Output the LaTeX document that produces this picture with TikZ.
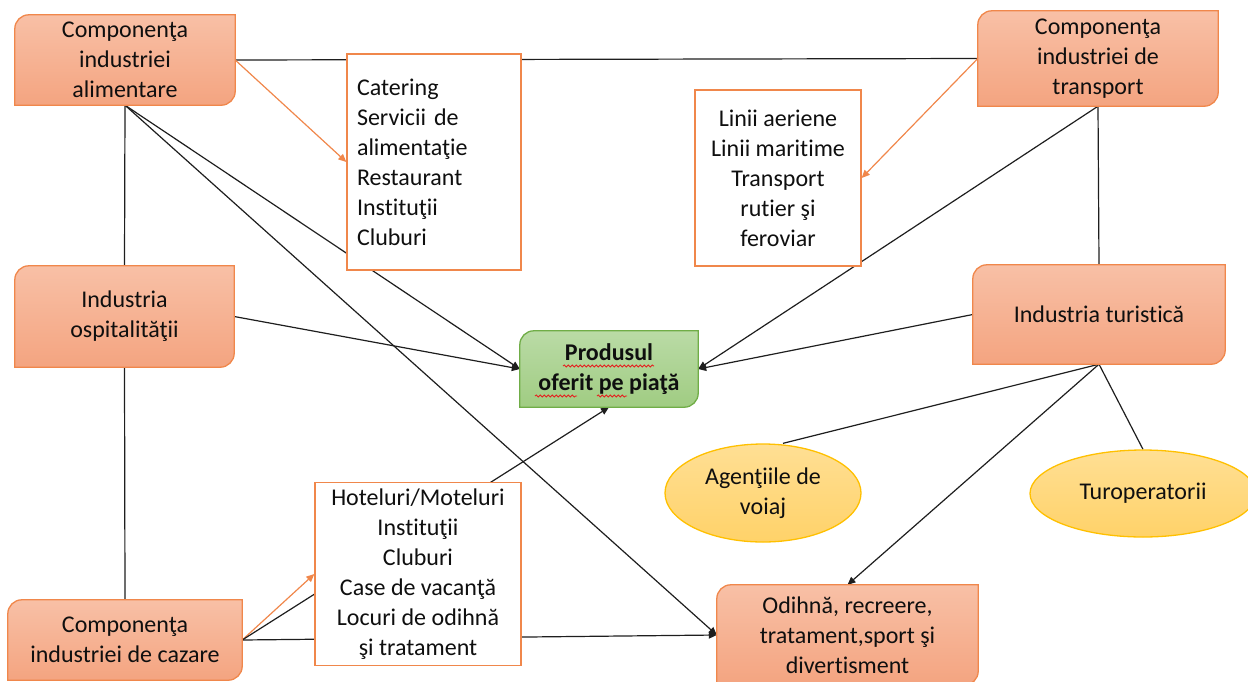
\documentclass[tikz,border=0pt]{standalone}
\usepackage{fontspec}
\setmainfont{Carlito}[RawFeature={-liga;-clig;-dlig;-calt}]
\usetikzlibrary{arrows.meta,shapes.geometric,decorations.pathmorphing}
\pgfdeclarelayer{lines}
\pgfdeclarelayer{boxes}
\pgfsetlayers{lines,boxes,main}
\definecolor{obrd}{RGB}{240,135,75}
\definecolor{otop}{RGB}{248,192,166}
\definecolor{obot}{RGB}{244,164,128}
\definecolor{gbrd}{RGB}{112,173,71}
\definecolor{gtop}{RGB}{186,219,166}
\definecolor{gbot}{RGB}{160,204,130}
\definecolor{ybrd}{RGB}{255,192,0}
\definecolor{ytop}{RGB}{255,223,148}
\definecolor{ybot}{RGB}{255,210,105}
\definecolor{txt}{RGB}{15,15,15}
\definecolor{lnc}{RGB}{30,30,30}
\definecolor{wavy}{RGB}{230,30,30}
\newcommand\dshape[2]{%
  \path[#1] ([xshift=14pt]#2.north west) -- (#2.north east) -- ([yshift=14pt]#2.south east)
    arc[start angle=0,end angle=-90,radius=14pt] -- (#2.south west) -- ([yshift=-14pt]#2.north west)
    arc[start angle=180,end angle=90,radius=14pt] -- cycle;}
\tikzset{
  every node/.style={font=\fontsize{24}{30}\selectfont, text=txt, inner sep=0pt},
  obox/.style={top color=otop, bottom color=obot, draw=obrd, line width=1.3pt},
  gbox/.style={top color=gtop, bottom color=gbot, draw=gbrd, line width=1.3pt},
  wbox/.style={rectangle, draw=obrd, fill=white, line width=1.3pt},
  ell/.style={ellipse, top color=ytop, bottom color=ybot, draw=ybrd, line width=1.3pt, align=center},
  ln/.style={draw=lnc, line width=1.2pt},
  arr/.style={ln, -{Triangle[length=8pt,width=7pt]}},
  oarr/.style={draw=obrd, line width=1.2pt, -{Triangle[length=8pt,width=7pt]}},
  squig/.style={draw=wavy, line width=0.8pt, decorate, decoration={snake, amplitude=1.1pt, segment length=4pt}}
}
\begin{document}
\begin{tikzpicture}[x=1pt,y=-1pt]
\useasboundingbox (0,0) rectangle (1248,681);
% nodes
\node[minimum width=220pt, minimum height=90pt, align=center] (A) at (125,60) {Componenţa\\industriei\\alimentare};
\node[wbox, minimum width=174pt, minimum height=216pt, text width=154pt, align=left] (Cat) at (434,162) {Catering\\Servicii de\\alimentaţie\\Restaurant\\Instituţii\\Cluburi};
\node[minimum width=240pt, minimum height=95pt, align=center] (T) at (1098,58.5) {Componenţa\\industriei de\\transport};
\node[wbox, minimum width=166pt, minimum height=176pt, align=center] (Lin) at (778,178) {Linii aeriene\\Linii maritime\\Transport\\rutier şi\\feroviar};
\node[minimum width=219pt, minimum height=101pt, align=center] (H) at (124.5,316.5) {Industria\\ospitalităţii};
\node[minimum width=252pt, minimum height=99pt, align=center] (Tur) at (1099,314.5) {Industria turistică};
\node[minimum width=178pt, minimum height=76pt, align=center, font=\fontsize{24}{30}\selectfont\bfseries] (P) at (609,369) {Produsul\\oferit pe piaţă};
\node[ell, minimum width=196pt, minimum height=98pt] (Ag) at (763,493) {Agenţiile de\\voiaj};
\node[ell, minimum width=226pt, minimum height=87pt] (Top) at (1143,493.5) {Turoperatorii};
\node[minimum width=234pt, minimum height=80pt, align=center] (C) at (125,640) {Componenţa\\industriei de cazare};
\node[wbox, minimum width=206pt, minimum height=183pt, align=center] (Hot) at (418,574) {Hoteluri/Moteluri\\Instituţii\\Cluburi\\Case de vacanţă\\Locuri de odihnă\\şi tratament};
\node[minimum width=261pt, minimum height=100pt, align=center] (O) at (847.5,635) {Odihnă, recreere,\\tratament,sport şi\\divertisment};
% box shapes
\begin{pgfonlayer}{boxes}
\dshape{obox}{A}
\dshape{obox}{T}
\dshape{obox}{H}
\dshape{obox}{Tur}
\dshape{gbox}{P}
\dshape{obox}{C}
\dshape{obox}{O}
\end{pgfonlayer}
% spell-check squiggles
\draw[squig] ([shift={(-46,-3)}]P.center) -- ([shift={(45,-3)}]P.center);
\draw[squig] ([shift={(-74,27)}]P.center) -- ([shift={(-32,27)}]P.center);
\draw[squig] ([shift={(-12,27)}]P.center) -- ([shift={(18,27)}]P.center);
% connectors
\begin{pgfonlayer}{lines}
\draw[ln] (A.east) -- (T.west);
\draw[oarr] (A.east) -- (Cat.west);
\draw[ln] (A.south) -- (H.north);
\draw[arr] (A.south) -- (P.west);
\draw[arr] (A.south) -- (O.west);
\draw[arr] (H.east) -- (P.west);
\draw[ln] (H.south) -- (C.north);
\draw[ln] (T.south) -- (Tur.north);
\draw[arr] (T.south) -- (P.east);
\draw[oarr] (T.west) -- (Lin.east);
\draw[arr] (Tur.west) -- (P.east);
\draw[ln] (Tur.south) -- ([xshift=20pt]Ag.north);
\draw[ln] (Tur.south) -- (Top.north);
\draw[arr] (Tur.south) -- (O.north);
\draw[oarr] (C.east) -- (Hot.west);
\draw[arr] (C.east) -- (P.south);
\draw[arr] (C.east) -- (O.west);
\end{pgfonlayer}
\end{tikzpicture}
\end{document}
